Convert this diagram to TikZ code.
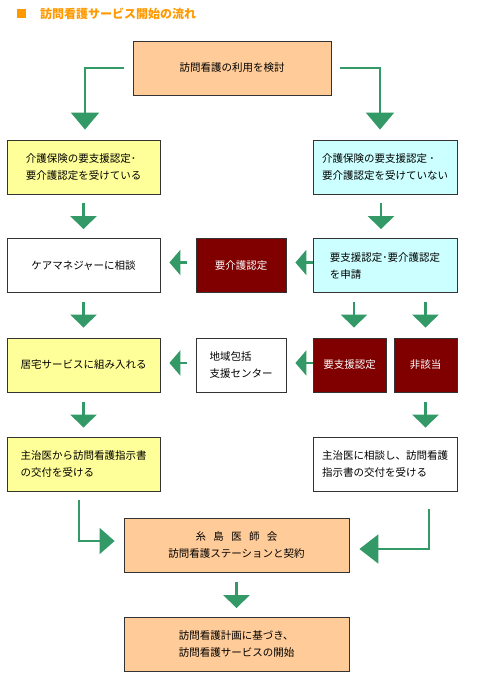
\documentclass[tikz,border=0pt]{standalone}
\usepackage{fontspec}
\setmainfont{Noto Sans CJK JP}
\usetikzlibrary{arrows.meta}
\definecolor{peach}{HTML}{FFCC99}
\definecolor{lyellow}{HTML}{FFFF99}
\definecolor{lcyan}{HTML}{CCFFFF}
\definecolor{dred}{HTML}{800000}
\definecolor{agreen}{HTML}{339966}
\definecolor{torange}{HTML}{FF9900}
\definecolor{boxline}{HTML}{333333}
\begin{document}
\begin{tikzpicture}[x=1pt,y=-1pt,
  box/.style={draw=boxline,line width=0.8pt,minimum height=54pt,inner sep=0pt,align=left,
    font=\fontsize{10.5}{17}\selectfont},
  peachbox/.style={box,fill=peach},
  yelbox/.style={box,fill=lyellow},
  cyanbox/.style={box,fill=lcyan},
  whitebox/.style={box,fill=white},
  redbox/.style={box,fill=dred,text=white},
  varr/.style={draw=agreen,line width=2.5pt,-{Triangle[width=26pt,length=13pt]}},
  harr/.style={draw=agreen,line width=2.5pt,-{Triangle[width=25pt,length=11pt]}},
  tarr/.style={draw=agreen,line width=2pt,-{Triangle[width=28pt,length=17pt]}},
  blarr/.style={draw=agreen,line width=1.5pt,-{Triangle[width=26pt,length=15pt]}},
  brarr/.style={draw=agreen,line width=2pt,-{Triangle[width=29pt,length=19pt]}}
]
\useasboundingbox (0,0) rectangle (480,693);
% title
\node[fill=torange,minimum size=9pt,inner sep=0pt] (sq) at (21.5,13.5) {};
\node[anchor=west,text=torange,inner sep=0pt,font=\bfseries\fontsize{12}{12}\selectfont] (title) at (40,14) {訪問看護サービス開始の流れ};
% boxes
\node[peachbox,minimum width=198pt] (b1) at (232,68) {訪問看護の利用を検討};
\node[yelbox,minimum width=153pt] (b2l) at (83.5,167) {介護保険の要支援認定･\\要介護認定を受けている};
\node[cyanbox,minimum width=144pt] (b2r) at (385,167) {介護保険の要支援認定 ･\\要介護認定を受けていない};
\node[whitebox,minimum width=153pt] (r3l) at (83.5,265.5) {ケアマネジャーに相談};
\node[redbox,minimum width=90pt] (r3m) at (241,265.5) {要介護認定};
\node[cyanbox,minimum width=144pt] (r3r) at (385,265.5) {要支援認定･要介護認定\\を申請};
\node[yelbox,minimum width=153pt] (r4l) at (83.5,365) {居宅サービスに組み入れる};
\node[whitebox,minimum width=90pt] (r4m) at (241,365) {地域包括\\支援センター};
\node[redbox,minimum width=73pt] (r4a) at (349.5,365) {要支援認定};
\node[redbox,minimum width=63pt] (r4b) at (425.5,365) {非該当};
\node[yelbox,minimum width=153pt] (r5l) at (83.5,464) {主治医から訪問看護指示書\\の交付を受ける};
\node[whitebox,minimum width=144pt] (r5r) at (385,464) {主治医に相談し、訪問看護\\指示書の交付を受ける};
\node[peachbox,minimum width=225pt,align=center] (b7) at (236.5,545) {糸\hspace{0.7em}島\hspace{0.7em}医\hspace{0.7em}師\hspace{0.7em}会\\訪問看護ステーションと契約};
\node[peachbox,minimum width=225pt] (b8) at (236.5,644.5) {訪問看護計画に基づき、\\訪問看護サービスの開始};
% connectors
\draw[tarr,shorten <=9pt,shorten >=10pt] (b1.west) -| ([xshift=1.5pt]b2l.north);
\draw[tarr,shorten <=9pt,shorten >=10pt] (b1.east) -| ([xshift=-5pt]b2r.north);
\draw[varr,shorten <=9pt,shorten >=9pt] (b2l.south) -- (r3l.north);
\draw[varr,shorten <=9pt,shorten >=9pt] ([xshift=-4pt]b2r.south) -- ([xshift=-4pt]r3r.north);
\draw[harr,shorten >=9pt] ([yshift=3pt]r3r.west) -- ([yshift=3pt]r3m.east);
\draw[harr,shorten <=9pt,shorten >=9pt] ([yshift=3pt]r3m.west) -- ([yshift=3pt]r3l.east);
\draw[varr,shorten <=9pt,shorten >=10pt] (r3l.south) -- (r4l.north);
\draw[varr,shorten <=9pt,shorten >=10pt] ([xshift=4.5pt]r4a.north |- r3r.south) -- ([xshift=4.5pt]r4a.north);
\draw[varr,shorten <=9pt,shorten >=10pt] (r4b.north |- r3r.south) -- (r4b.north);
\draw[harr,shorten >=9pt] ([yshift=2pt]r4a.west) -- ([yshift=2pt]r4m.east);
\draw[harr,shorten <=9pt,shorten >=9pt] ([yshift=2pt]r4m.west) -- ([yshift=2pt]r4l.east);
\draw[varr,shorten <=10pt,shorten >=9pt] (r4l.south) -- (r5l.north);
\draw[varr,shorten <=10pt,shorten >=9pt] (r4b.south) -- (r4b.south |- r5r.north);
\draw[blarr,shorten <=9pt,shorten >=9pt] ([xshift=-4.5pt]r5l.south) |- ([yshift=4pt]b7.west);
\draw[brarr,shorten <=18pt,shorten >=10pt] ([xshift=44pt]r5r.south) |- ([yshift=-4pt]b7.east);
\draw[varr,shorten <=10pt,shorten >=9pt] (b7.south) -- (b8.north);
\end{tikzpicture}
\end{document}
